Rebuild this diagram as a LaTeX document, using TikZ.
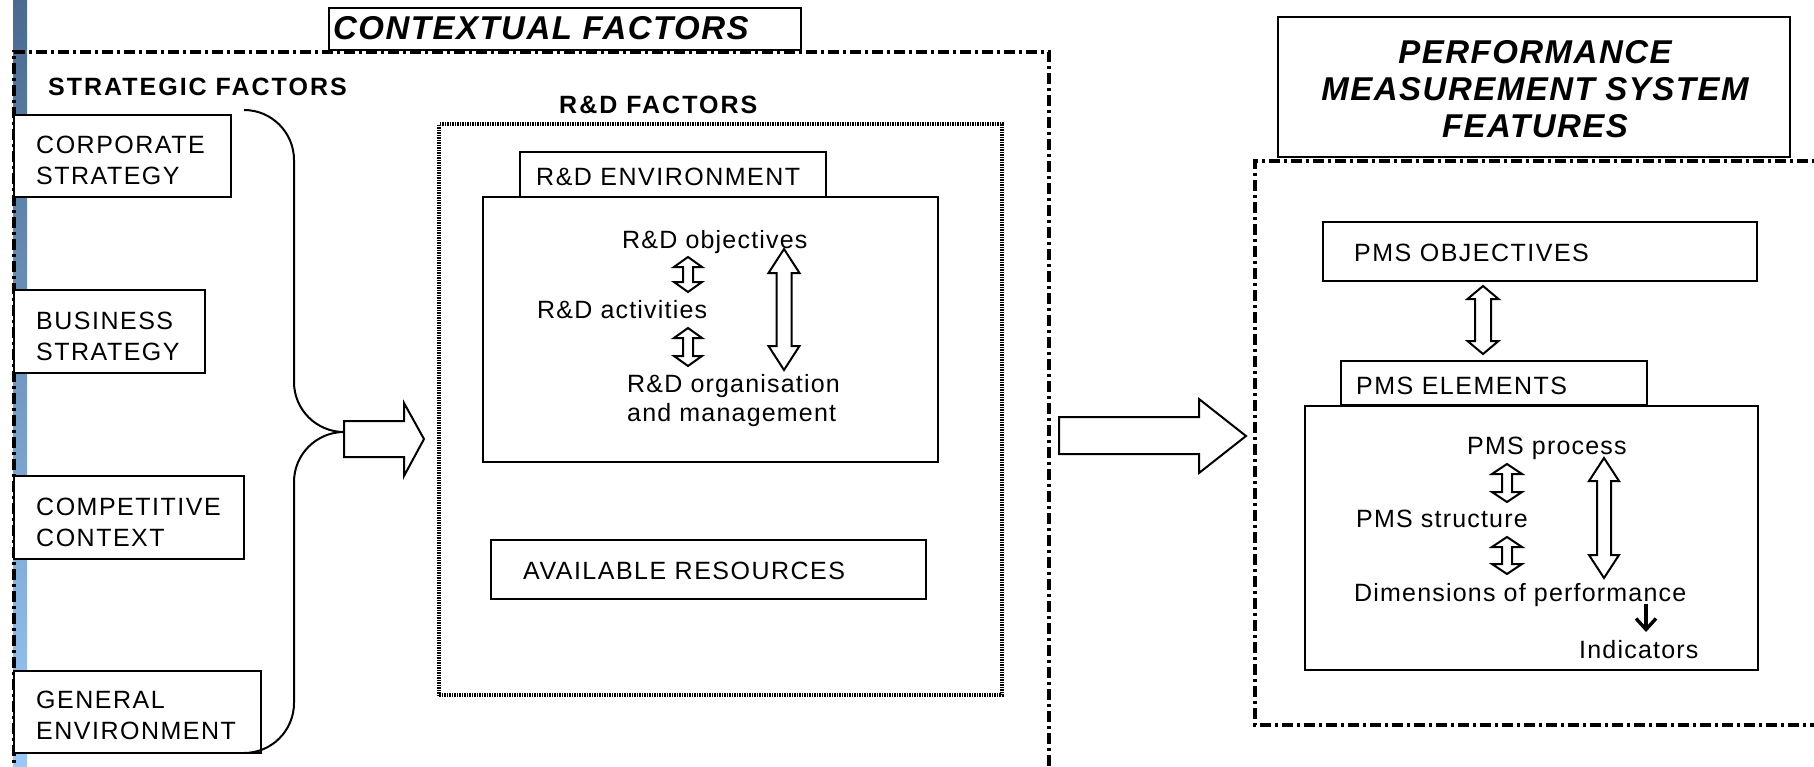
\documentclass[tikz,border=0pt]{standalone}
\usepackage{fontspec}
\setmainfont{Liberation Sans}[LetterSpace=6]
\newfontfamily\headfont{Liberation Sans}[LetterSpace=4.5]
\newfontfamily\boldwide{Liberation Sans}[LetterSpace=8]
\newfontfamily\lowfont{Liberation Sans}[LetterSpace=4.8]
\usetikzlibrary{arrows.meta}
\definecolor{barTop}{HTML}{4A6A8E}
\definecolor{barBot}{HTML}{9BC8F5}
\newcommand\pbox[6][box]{%
  \node[#1, minimum width={(#5-#3)*1pt}, minimum height={(#6-#4)*1pt}] (#2) at ({(#3+#5)/2},{(#4+#6)/2}) {};}
\newcommand\vdbl[6]{%
  \draw[hollow] (#1,#2) -- ({#1+#5},{#2+#6}) -- ({#1+#4},{#2+#6}) -- ({#1+#4},{#3-#6}) -- ({#1+#5},{#3-#6}) -- (#1,#3) -- ({#1-#5},{#3-#6}) -- ({#1-#4},{#3-#6}) -- ({#1-#4},{#2+#6}) -- ({#1-#5},{#2+#6}) -- cycle;}
\begin{document}
\begin{tikzpicture}[x=1pt,y=-1pt,
  box/.style={draw, line width=2pt, fill=white, inner sep=0pt},
  dotbox/.style={draw, line width=3.4pt, dash pattern=on 1.5pt off 1pt, inner sep=0pt},
  dashdot/.style={line width=3.6pt, dash pattern=on 11pt off 4pt on 3pt off 4pt},
  hollow/.style={draw, line width=2pt, fill=white, line join=miter},
  rtxt/.style={inner sep=0pt, anchor=base west, font=\fontsize{25}{30}\selectfont},
  ltxt/.style={rtxt, font=\fontsize{25}{30}\selectfont\lowfont},
  btxt/.style={rtxt, font=\fontsize{25}{30}\selectfont\boldwide\bfseries},
  htxt/.style={inner sep=0pt, anchor=base, font=\fontsize{33}{38}\selectfont\headfont\bfseries\itshape}]
\useasboundingbox (0,0) rectangle (1814,766);
\clip (0,0) rectangle (1814,766);
\fill[white] (0,0) rectangle (1814,766);
\shade[top color=barTop, bottom color=barBot] (13,0) rectangle (27,766);

% contextual factors frame
\draw[dashdot] (14,800) -- (14,52) -- (1049,52) -- (1049,800);
\pbox{ctxbox}{329}{8}{801}{50}
\node[htxt, anchor=base west] (ctx) at (333,39) {CONTEXTUAL FACTORS};

% strategic factors
\node[btxt] (strat) at (48,95) {STRATEGIC FACTORS};
\pbox{corp}{14}{115}{231}{197}
\node[rtxt] (corp1) at (36,153) {CORPORATE};
\node[rtxt] (corp2) at (36,184) {STRATEGY};
\pbox{bus}{14}{290}{205}{373}
\node[rtxt] (bus1) at (36,329) {BUSINESS};
\node[rtxt] (bus2) at (36,360) {STRATEGY};
\pbox{comp}{14}{476}{244}{559}
\node[rtxt] (comp1) at (36,515) {COMPETITIVE};
\node[rtxt] (comp2) at (36,546) {CONTEXT};
\pbox{gen}{14}{671}{261}{753}
\node[rtxt] (gen1) at (36,708) {GENERAL};
\node[rtxt] (gen2) at (36,739) {ENVIRONMENT};

% brace
\coordinate (bracetop) at (244,110);
\coordinate (bracebot) at (244,753);
\coordinate (bracetip) at (344,432);
\draw[line width=2pt, rounded corners=50pt] (bracetop) -- (294,110) -- (294,432) -- (bracetip);
\draw[line width=2pt, rounded corners=50pt] (bracetip) -- (294,432) -- (294,753) -- (bracebot);

% left block arrow
\draw[hollow] (344,421) -- (404,421) -- (404,403) -- (424,439) -- (404,476) -- (404,457) -- (344,457) -- cycle;

% R&D factors
\node[btxt] (rdf) at (559,113) {R\&D FACTORS};
\pbox[dotbox]{rdbox}{439}{124}{1002}{695}
\pbox{rdtab}{520}{152}{826}{197}
\node[rtxt] (rdenv) at (536,185) {R\&D ENVIRONMENT};
\pbox{rdmain}{483}{197}{938}{462}
\node[ltxt] (rdobj) at (622,248) {R\&D objectives};
\node[ltxt] (rdact) at (537,318) {R\&D activities};
\node[ltxt] (rdorg1) at (627,392) {R\&D organisation};
\node[ltxt] (rdorg2) at (627,421) {and management};
\vdbl{688}{257}{292}{5}{14}{10}
\vdbl{688}{328}{366}{5}{14}{10}
\vdbl{784}{249}{370}{7.5}{15.5}{24}
\pbox{avail}{491}{540}{926}{599}
\node[rtxt] (availt) at (523,579) {AVAILABLE RESOURCES};

% middle block arrow
\draw[hollow] (1059,417) -- (1199,417) -- (1199,399) -- (1246,436) -- (1199,473) -- (1199,454) -- (1059,454) -- cycle;

% PMS frame
\draw[dashdot] (1830,161) -- (1255,161) -- (1255,725) -- (1830,725);
\pbox{pmstitle}{1278}{17}{1790}{157}
\node[htxt] (pt1) at (1535,63) {PERFORMANCE};
\node[htxt] (pt2) at (1535,100) {MEASUREMENT SYSTEM};
\node[htxt] (pt3) at (1535,137) {FEATURES};

\pbox{pmsobj}{1323}{222}{1757}{281}
\node[rtxt] (pmsobjt) at (1354,261) {PMS OBJECTIVES};
\vdbl{1483}{286}{354}{8}{15.5}{13}
\pbox{pmsmain}{1305}{406}{1758}{670}
\pbox{pmstab}{1341}{361}{1647}{405}
\node[rtxt] (pmselt) at (1356,394) {PMS ELEMENTS};
\node[ltxt] (pmsproc) at (1467,454) {PMS process};
\node[ltxt] (pmsstr) at (1356,527) {PMS structure};
\node[ltxt] (pmsdim) at (1354,601) {Dimensions of performance};
\node[ltxt] (pmsind) at (1579,658) {Indicators};
\vdbl{1507}{464}{502}{5}{15}{10}
\vdbl{1507}{537}{574}{5}{15}{10}
\vdbl{1604}{458}{578}{7}{15}{23}
\coordinate (dimarrow) at (1646,604);
\coordinate (indarrow) at (1646,632);
\draw[line width=3.4pt, -{Straight Barb[length=11pt,width=20pt]}] (dimarrow) -- (indarrow);
\end{tikzpicture}
\end{document}
